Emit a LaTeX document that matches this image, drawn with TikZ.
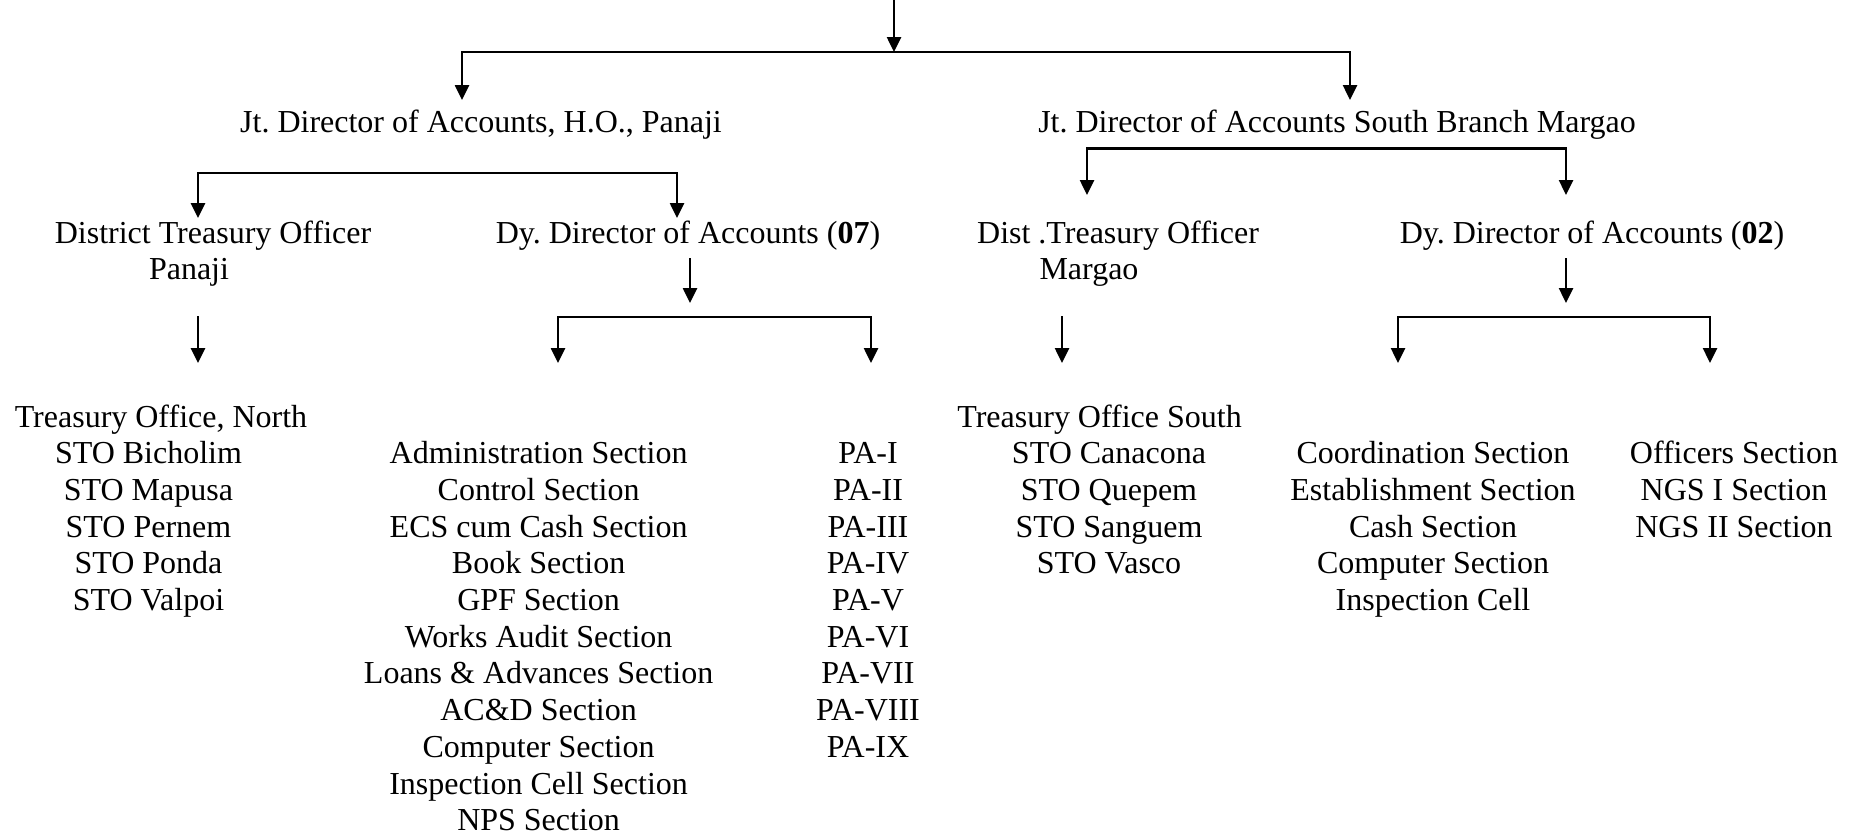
\documentclass[tikz,border=0pt]{standalone}
\usepackage{fontspec}
\setmainfont{Liberation Serif}
\usetikzlibrary{arrows.meta}
\frenchspacing
\begin{document}
\begin{tikzpicture}[x=0.5pt,y=-0.5pt,
  lbl/.style={anchor=base,inner sep=0pt,font=\fontsize{16}{18.35}\selectfont},
  arr/.style={line width=1.3pt,-{Triangle[length=7.5pt,width=7pt]}},
  fork/.style={line width=1.3pt,{Triangle[length=7.5pt,width=7pt]}-{Triangle[length=7.5pt,width=7pt]}}]
\useasboundingbox (0,0) rectangle (1862,836);

% ---- connector points ----
\coordinate (top)  at (894,0);
\coordinate (topj) at (894,52);
\coordinate (jL)   at (462,52);   \coordinate (jLt) at (462,100);
\coordinate (jR)   at (1350,52);  \coordinate (jRt) at (1350,100);

\coordinate (hoL)  at (198,173);  \coordinate (hoLt) at (198,218);
\coordinate (hoR)  at (677,173);  \coordinate (hoRt) at (677,218);
\coordinate (sbL)  at (1087,148.5); \coordinate (sbLt) at (1087,195);
\coordinate (sbR)  at (1566,148.5); \coordinate (sbRt) at (1566,195);

\coordinate (pnS)  at (198,316);  \coordinate (pnT)  at (198,363);
\coordinate (d7S)  at (690,258);  \coordinate (d7T)  at (690,303);
\coordinate (d7L)  at (558,317);  \coordinate (d7Lt) at (558,363);
\coordinate (d7R)  at (871,317);  \coordinate (d7Rt) at (871,363);
\coordinate (mgS)  at (1062,316); \coordinate (mgT)  at (1062,363);
\coordinate (d2S)  at (1566,258); \coordinate (d2T)  at (1566,303);
\coordinate (d2L)  at (1398,317); \coordinate (d2Lt) at (1398,363);
\coordinate (d2R)  at (1710,317); \coordinate (d2Rt) at (1710,363);

% ---- labels ----
\node[lbl] (jtL) at (481,132) {Jt. Director of Accounts, H.O., Panaji};
\node[lbl] (jtR) at (1337,132) {Jt. Director of Accounts South Branch Margao};

\node[lbl] (dtoN)  at (213,243)   {District Treasury Officer};
\node[lbl] (dtoNb) at (189,279.7) {Panaji};
\node[lbl] (ddN)   at (688,243)   {Dy. Director of Accounts (\textbf{07})};
\node[lbl] (dtoS)  at (1118,243)  {Dist .Treasury Officer};
\node[lbl] (dtoSb) at (1089,279.7) {Margao};
\node[lbl] (ddS)   at (1592,243)  {Dy. Director of Accounts (\textbf{02})};

\node[lbl] (toN) at (161,427) {Treasury Office, North};
\foreach \t [count=\i] in {STO Bicholim, STO Mapusa, STO Pernem, STO Ponda, STO Valpoi}
  \node[lbl] (stoN-\i) at (148.5,{427+36.7*\i}) {\t};

\foreach \t [count=\i] in {Administration Section, Control Section, ECS cum Cash Section,
    Book Section, GPF Section, Works Audit Section, Loans \& Advances Section,
    AC\&D Section, Computer Section, Inspection Cell Section, NPS Section}
  \node[lbl] (sec7-\i) at (538.6,{427+36.7*\i}) {\t};

\foreach \t [count=\i] in {PA-I, PA-II, PA-III, PA-IV, PA-V, PA-VI, PA-VII, PA-VIII, PA-IX}
  \node[lbl] (pa-\i) at (868,{427+36.7*\i}) {\t};

\node[lbl] (toS) at (1099.6,427) {Treasury Office South};
\foreach \t [count=\i] in {STO Canacona, STO Quepem, STO Sanguem, STO Vasco}
  \node[lbl] (stoS-\i) at (1109,{427+36.7*\i}) {\t};

\foreach \t [count=\i] in {Coordination Section, Establishment Section, Cash Section,
    Computer Section, Inspection Cell}
  \node[lbl] (sec2-\i) at (1433,{427+36.7*\i}) {\t};

\foreach \t [count=\i] in {Officers Section, NGS I Section, NGS II Section}
  \node[lbl] (off-\i) at (1734,{427+36.7*\i}) {\t};

% ---- connectors ----
\draw[arr]  (top) -- (topj);
\draw[fork] (jLt) -- (jL) -- (jR) -- (jRt);
\draw[fork] (hoLt) -- (hoL) -- (hoR) -- (hoRt);
\draw[fork] (sbLt) -- (sbL) -- (sbR) -- (sbRt);
\draw[arr]  (pnS) -- (pnT);
\draw[arr]  (d7S) -- (d7T);
\draw[fork] (d7Lt) -- (d7L) -- (d7R) -- (d7Rt);
\draw[arr]  (mgS) -- (mgT);
\draw[arr]  (d2S) -- (d2T);
\draw[fork] (d2Lt) -- (d2L) -- (d2R) -- (d2Rt);
\end{tikzpicture}
\end{document}
